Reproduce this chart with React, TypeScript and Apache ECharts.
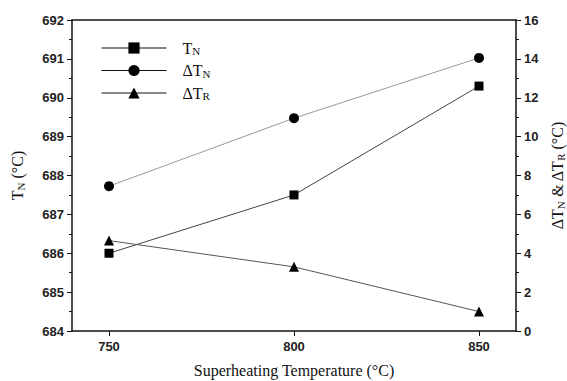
import React, { useEffect, useRef } from "react";
import * as echarts from "echarts";

const temps = [750, 800, 850];
const tN = [686.0, 687.5, 690.3];
const dTN = [7.45, 10.95, 14.05];
const dTR = [4.65, 3.3, 1.0];
const xTicks = [750, 800, 850];

const serif = "'Liberation Serif', 'Times New Roman', serif";
const sans = "'Liberation Sans', Arial, sans-serif";

const rich = {
  a: { fontFamily: serif, fontSize: 16, color: "#111" },
  s: { fontFamily: serif, fontSize: 11, color: "#111", padding: [6, 0, 0, 0] },
};

export default function App() {
  const ref = useRef<HTMLDivElement>(null);
  useEffect(() => {
    if (!ref.current) return;
    const chart = echarts.init(ref.current, undefined, { renderer: "svg" });
    const pairs = (ys: number[]) => temps.map((t, i) => [t, ys[i]]);
    const legendNames: Record<string, string> = {
      TN: "{a|T}{s|N}",
      dTN: "{a|ΔT}{s|N}",
      dTR: "{a|ΔT}{s|R}",
    };
    const lineBlack = { color: "#111", width: 1 };
    chart.setOption({
      animation: false,
      backgroundColor: "#fff",
      grid: { left: 72, right: 51, top: 20, bottom: 50, containLabel: false, outerBoundsMode: "none" },
      legend: {
        orient: "vertical",
        left: 96,
        top: 35,
        itemWidth: 65,
        itemHeight: 14,
        itemGap: 6,
        formatter: (n: string) => legendNames[n],
        textStyle: { rich, padding: [0, 0, 0, 11] },
        data: [
          { name: "TN", lineStyle: lineBlack },
          { name: "dTN", lineStyle: lineBlack },
          { name: "dTR", lineStyle: lineBlack },
        ],
      },
      xAxis: [
        {
          type: "value",
          min: 740,
          max: 860,
          interval: 10,
          name: "Superheating Temperature (°C)",
          nameLocation: "middle",
          nameGap: 31,
          nameTextStyle: { fontFamily: serif, fontSize: 16, color: "#111" },
          axisLine: { lineStyle: { color: "#111", width: 1.5 } },
          axisTick: { customValues: xTicks, inside: false, length: 5, lineStyle: { color: "#111" } },
          axisLabel: { customValues: xTicks, fontFamily: sans, fontSize: 13, fontWeight: "bold", color: "#222", margin: 9 },
          splitLine: { show: false },
        },
        {
          type: "value",
          position: "top",
          min: 740,
          max: 860,
          axisLine: { show: true, onZero: false, lineStyle: { color: "#111", width: 1.5 } },
          axisTick: { show: false },
          axisLabel: { show: false },
          splitLine: { show: false },
        },
      ],
      yAxis: [
        {
          type: "value",
          min: 684,
          max: 692,
          interval: 1,
          name: "{a|T}{s|N}{a| (°C)}",
          nameLocation: "middle",
          nameRotate: 90,
          nameGap: 46,
          nameTextStyle: { rich },
          axisLine: { show: true, lineStyle: { color: "#111", width: 1.5 } },
          axisTick: { show: true, length: 5, lineStyle: { color: "#111" } },
          minorTick: { show: true, splitNumber: 2, length: 3, lineStyle: { color: "#111" } },
          axisLabel: { fontFamily: sans, fontSize: 13, fontWeight: "bold", color: "#222", margin: 8 },
          splitLine: { show: false },
        },
        {
          type: "value",
          min: 0,
          max: 16,
          interval: 2,
          position: "right",
          name: "{a|ΔT}{s|N}{a| & ΔT}{s|R}{a| (°C)}",
          nameLocation: "middle",
          nameRotate: 90,
          nameGap: 33,
          nameTextStyle: { rich },
          axisLine: { show: true, lineStyle: { color: "#111", width: 1.5 } },
          axisTick: { show: true, length: 5, lineStyle: { color: "#111" } },
          minorTick: { show: true, splitNumber: 2, length: 3, lineStyle: { color: "#111" } },
          axisLabel: { fontFamily: sans, fontSize: 13, fontWeight: "bold", color: "#222", margin: 8 },
          splitLine: { show: false },
        },
      ],
      series: [
        {
          name: "TN",
          type: "line",
          yAxisIndex: 0,
          data: pairs(tN),
          symbol: "rect",
          symbolSize: 9,
          itemStyle: { color: "#000" },
          lineStyle: { color: "#444", width: 1 },
        },
        {
          name: "dTN",
          type: "line",
          yAxisIndex: 1,
          data: pairs(dTN),
          symbol: "circle",
          symbolSize: 10,
          itemStyle: { color: "#000" },
          lineStyle: { color: "#999", width: 1 },
        },
        {
          name: "dTR",
          type: "line",
          yAxisIndex: 1,
          data: pairs(dTR),
          symbol: "triangle",
          symbolSize: 10,
          itemStyle: { color: "#000" },
          lineStyle: { color: "#555", width: 1 },
        },
      ],
    });
    return () => chart.dispose();
  }, []);
  return (
    <div
      ref={ref}
      style={{ position: "fixed", left: 0, top: 0, width: 567, height: 381 }}
    />
  );
}
